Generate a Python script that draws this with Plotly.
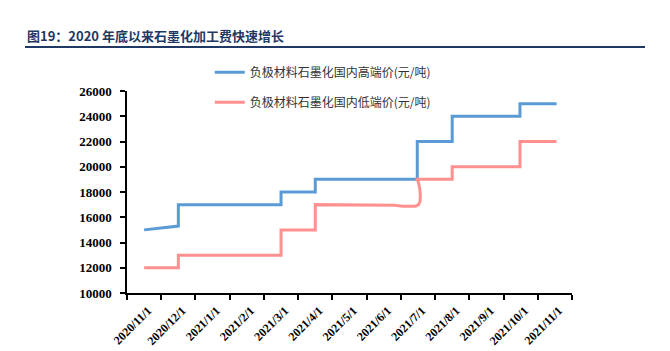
import plotly.graph_objects as go

# month index: 0 = 2020/11/1, 1 = 2020/12/1, ... 12 = 2021/11/1
tick_labels = ["2020/11/1", "2020/12/1", "2021/1/1", "2021/2/1", "2021/3/1", "2021/4/1",
               "2021/5/1", "2021/6/1", "2021/7/1", "2021/8/1", "2021/9/1", "2021/10/1", "2021/11/1"]
y_ticks = [10000, 12000, 14000, 16000, 18000, 20000, 22000, 24000, 26000]

high_x = [0, 1.0, 1.0, 4.0, 4.0, 5.0, 5.0, 7.98, 7.98, 9.0, 9.0, 10.98, 10.98, 12.05]
high_y = [15000, 15300, 17000, 17000, 18000, 18000, 19000, 19000, 22000, 22000, 24000, 24000, 25000, 25000]

low_x = [0, 1.0, 1.0, 4.0, 4.0, 5.0, 5.0, 7.0, 7.3, 7.55, 7.8, 7.93, 8.02, 8.06, 8.07, 8.05, 8.01, 7.98, 9.0, 9.0, 10.98, 10.98, 12.05]
low_y = [12000, 12000, 13000, 13000, 15000, 15000, 17000, 17000, 16960, 16880, 16850, 16880, 17000, 17250, 17700, 18300, 18800, 19000, 19000, 20000, 20000, 22000, 22000]

name_high = "负极材料石墨化国内高端价(元/吨)"
name_low = "负极材料石墨化国内低端价(元/吨)"

fig = go.Figure()
fig.add_trace(go.Scatter(x=high_x, y=high_y, mode="lines", name=name_high, legendgroup="a",
                         line=dict(color="#5B9BD5", width=3)))
fig.add_trace(go.Scatter(x=low_x, y=low_y, mode="lines", name=name_low, legendgroup="b",
                         line=dict(color="#FF9090", width=3)))

ytickfont = dict(family="Liberation Serif", size=13, color="#000000", weight="bold")
xtickfont = dict(family="Liberation Serif", size=12, color="#000000", weight="bold")

fig.update_layout(
    width=670, height=351,
    margin=dict(l=127, r=98, t=91, b=58),
    paper_bgcolor="white", plot_bgcolor="white",
    showlegend=True,
    legend=dict(x=0.186, y=1.165, xanchor="left", yanchor="top", bgcolor="rgba(0,0,0,0)",
                font=dict(family="Noto Sans CJK SC", size=12, color="#333333"),
                tracegroupgap=11, itemwidth=30),
    title=dict(text="图19：2020 年底以来石墨化加工费快速增长", x=27/670, xref="container", xanchor="left",
               y=1-36/351, yref="container", yanchor="middle",
               font=dict(family="Noto Sans CJK SC", size=13, color="#1F3864", weight="bold")),
    xaxis=dict(range=[-0.5, 12.5], tickmode="array", tickvals=list(range(13)), ticktext=tick_labels,
               tickangle=-45, ticks="", showgrid=False, zeroline=False, ticklabelstandoff=4,
               ticklabelshift=4, automargin=False,
               showline=True, linecolor="#000000", linewidth=1.5, tickfont=xtickfont,
               minor=dict(tickmode="array", tickvals=[i - 0.5 for i in range(14)], ticks="outside",
                          ticklen=5, tickcolor="#000000", tickwidth=1.5, showgrid=False)),
    yaxis=dict(range=[10000, 26000], tickmode="array", tickvals=y_ticks,
               ticktext=[str(v) for v in y_ticks], automargin=False,
               ticks="outside", ticklen=5, tickcolor="#000000", tickwidth=1.5,
               showgrid=False, zeroline=False, showline=True, linecolor="#000000", linewidth=1.5,
               tickfont=ytickfont, ticklabelstandoff=6),
    shapes=[dict(type="line", xref="paper", yref="paper", x0=(25-127)/445, x1=(645-127)/445,
                 y0=(293-47)/202, y1=(293-47)/202, line=dict(color="#1F3864", width=2))],
)

fig.write_html("out.html")
